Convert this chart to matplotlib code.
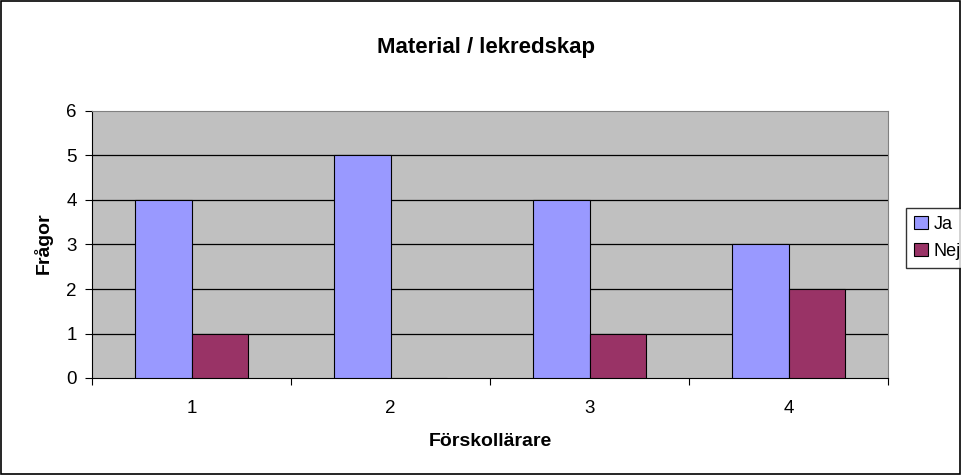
import matplotlib.pyplot as plt
import numpy as np
from matplotlib.patches import Rectangle

plt.rcParams['font.family'] = ['Liberation Sans', 'DejaVu Sans']

categories = ["1", "2", "3", "4"]
ja_values = [4, 5, 4, 3]
nej_values = [1, 0, 1, 2]

W, H = 962, 475
fig = plt.figure(figsize=(W / 100, H / 100), dpi=100)
ax = fig.add_axes([92 / W, 97 / H, 796 / W, 267 / H])
ax.set_facecolor("#C0C0C0")

x = np.arange(len(categories))
w = 0.286
ax.bar(x - w / 2, ja_values, w, color="#9999FF", edgecolor="black", linewidth=0.8, label="Ja", zorder=3)
ax.bar(x + w / 2, nej_values, w, color="#993366", edgecolor="black", linewidth=0.8, label="Nej", zorder=3)

ax.set_xlim(-0.5, len(categories) - 0.5)
ax.set_ylim(0, 6)
ax.set_yticks(range(0, 7))
for y in range(1, 6):
    ax.axhline(y, color="black", linewidth=0.9, zorder=1)

ax.set_xticks(np.arange(-0.5, len(categories), 1.0))
ax.set_xticklabels([])
ax.set_xticks(x, minor=True)
ax.set_xticklabels(categories, minor=True)
ax.tick_params(axis="x", which="minor", length=0, pad=16, labelsize=13.5)
ax.tick_params(axis="x", which="major", length=5, direction="out")
ax.tick_params(axis="y", length=5, direction="out", labelsize=13.5, pad=6)

for side in ["top", "right"]:
    ax.spines[side].set_color("#808080")
ax.spines["left"].set_color("black")
ax.spines["bottom"].set_color("black")

fig.text(486 / W, 1 - 47 / H, "Material / lekredskap", fontsize=16, fontweight="bold",
         ha="center", va="center")
fig.text(490 / W, 1 - 441 / H, "Förskollärare", fontsize=14, fontweight="bold",
         ha="center", va="center")
fig.text(43 / W, 1 - 243 / H, "Frågor", fontsize=14, fontweight="bold",
         ha="center", va="center", rotation=90)

fig.legend(loc="upper left", bbox_to_anchor=(906 / W, 1 - 208 / H),
           frameon=True, fancybox=False, edgecolor="black", fontsize=13,
           handlelength=0.75, handleheight=0.75, handletextpad=0.35,
           borderpad=0.45, labelspacing=0.55, borderaxespad=0)

fig.patches.append(Rectangle((0.001, 0.002), 0.997, 0.996, transform=fig.transFigure,
                             fill=False, edgecolor="black", linewidth=1.2))

fig.savefig("out.png", dpi=100)
